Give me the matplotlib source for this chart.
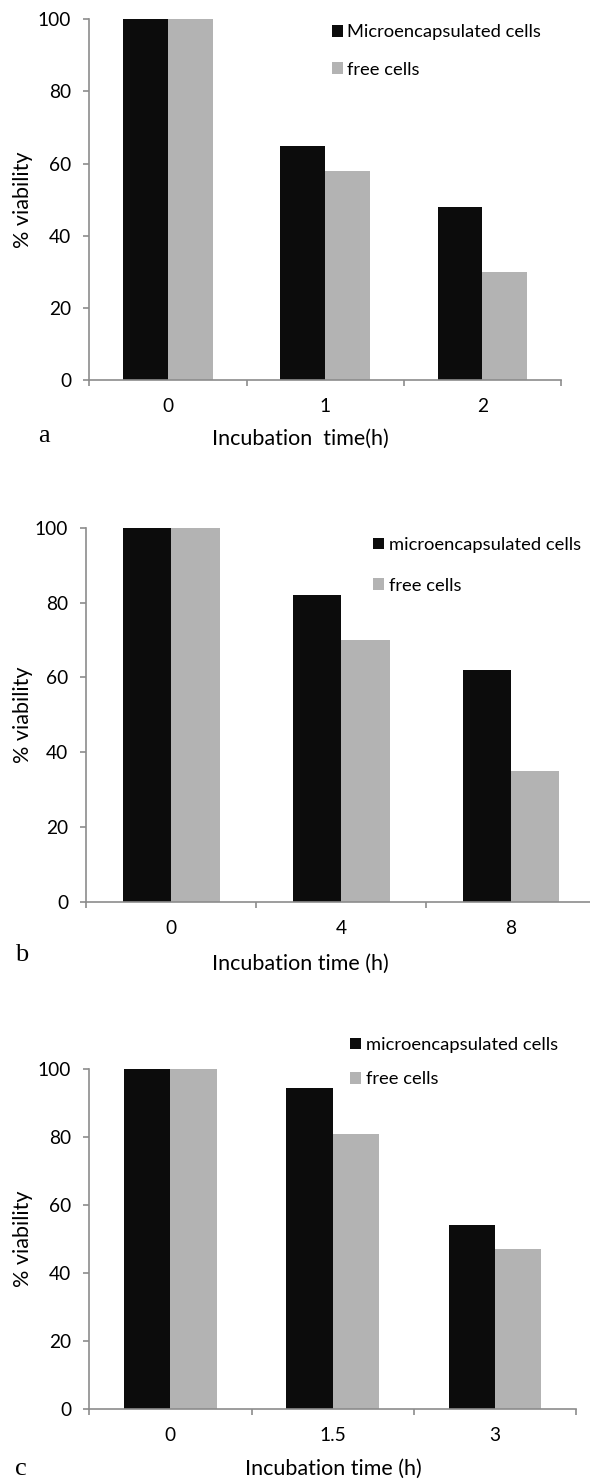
#!/usr/bin/env python3
import numpy as np
import matplotlib
matplotlib.use('Agg')
import matplotlib.pyplot as plt


# panel a
a_times = ['0', '1', '2']
a_micro = [100, 65, 48]
a_free = [100, 58, 30]

# panel b
b_times = ['0', '4', '8']
b_micro = [100, 82, 62]
b_free = [100, 70, 35]

# panel c
c_times = ['0', '1.5', '3']
c_micro = [100, 94.5, 54]
c_free = [100, 81, 47]

yticks = [0, 20, 40, 60, 80, 100]

W, H = 590, 1479
BLACK = '#0c0c0c'
GRAY = '#b3b3b3'
AXC = '#8c8c8c'
FONT = 'Lato'
TICK_FS = 13.8
LEG_FS = 13.2
LAB_FS = 15.5


def fx(px):
    return px / W


def fy(py):
    return 1 - py / H


def panel(fig, box, times, micro, free, names, xlabel, letter, xl_pos, let_pos,
          leg_pos, leg_space):
    left, top, right, bottom = box
    ax = fig.add_axes([fx(left), fy(bottom), fx(right) - fx(left), fy(top) - fy(bottom)])
    x = np.arange(len(times))
    w = 0.285
    ax.bar(x - w / 2, micro, w, color=BLACK, linewidth=0, label=names[0])
    ax.bar(x + w / 2, free, w, color=GRAY, linewidth=0, label=names[1])

    ax.set_xlim(-0.5, len(times) - 0.5)
    ax.set_ylim(0, 100)
    for s in ['top', 'right']:
        ax.spines[s].set_visible(False)
    for s in ['left', 'bottom']:
        ax.spines[s].set_color(AXC)
        ax.spines[s].set_linewidth(1.2)

    # Excel style: ticks between categories, labels in the middle
    ax.set_xticks(np.arange(len(times) + 1) - 0.5)
    ax.set_xticklabels([])
    ax.set_xticks(x, minor=True)
    ax.set_xticklabels(times, minor=True, fontsize=TICK_FS, family=FONT)
    ax.tick_params(axis='x', which='major', length=4.5, width=1.2, color=AXC, direction='out')
    ax.tick_params(axis='x', which='minor', length=0, pad=13)

    ax.set_yticks(yticks)
    ax.set_yticklabels([str(v) for v in yticks], fontsize=TICK_FS, family=FONT)
    ax.tick_params(axis='y', length=4.5, width=1.2, color=AXC, direction='out', pad=8.5)

    fig.text(fx(23), fy((top + bottom) / 2), '% viability', rotation=90, fontsize=LAB_FS,
             family=FONT, ha='center', va='center')
    fig.text(fx(xl_pos[0]), fy(xl_pos[1]), xlabel, fontsize=LAB_FS, family=FONT,
             ha='center', va='center')
    fig.text(fx(let_pos[0]), fy(let_pos[1]), letter, fontsize=19, family='Liberation Serif',
             ha='center', va='center')

    ax.legend(loc='upper left', bbox_to_anchor=(fx(leg_pos[0]), fy(leg_pos[1])),
              bbox_transform=fig.transFigure, frameon=False, borderpad=0,
              borderaxespad=0, handlelength=0.6, handleheight=0.6,
              handletextpad=0.25, labelspacing=leg_space,
              prop={'family': FONT, 'size': LEG_FS})
    return ax


def main():
    fig = plt.figure(figsize=(W / 100, H / 100), dpi=100)

    panel(fig, (89.3, 19.3, 561, 380), a_times, a_micro, a_free,
          ['Microencapsulated cells', 'free cells'], 'Incubation  time(h)', 'a',
          (300, 439), (44, 436), (331.7, 24.5), 1.15)
    panel(fig, (86.3, 527.7, 596, 901.7), b_times, b_micro, b_free,
          ['microencapsulated cells', 'free cells'], 'Incubation time (h)', 'b',
          (300, 964), (22, 955), (373, 537), 1.35)
    panel(fig, (89.3, 1069.3, 576, 1408.7), c_times, c_micro, c_free,
          ['microencapsulated cells', 'free cells'], 'Incubation time (h)', 'c',
          (333, 1469), (21, 1469), (350, 1037), 1.0)

    fig.savefig('out.png', dpi=100)


if __name__ == '__main__':
    main()
